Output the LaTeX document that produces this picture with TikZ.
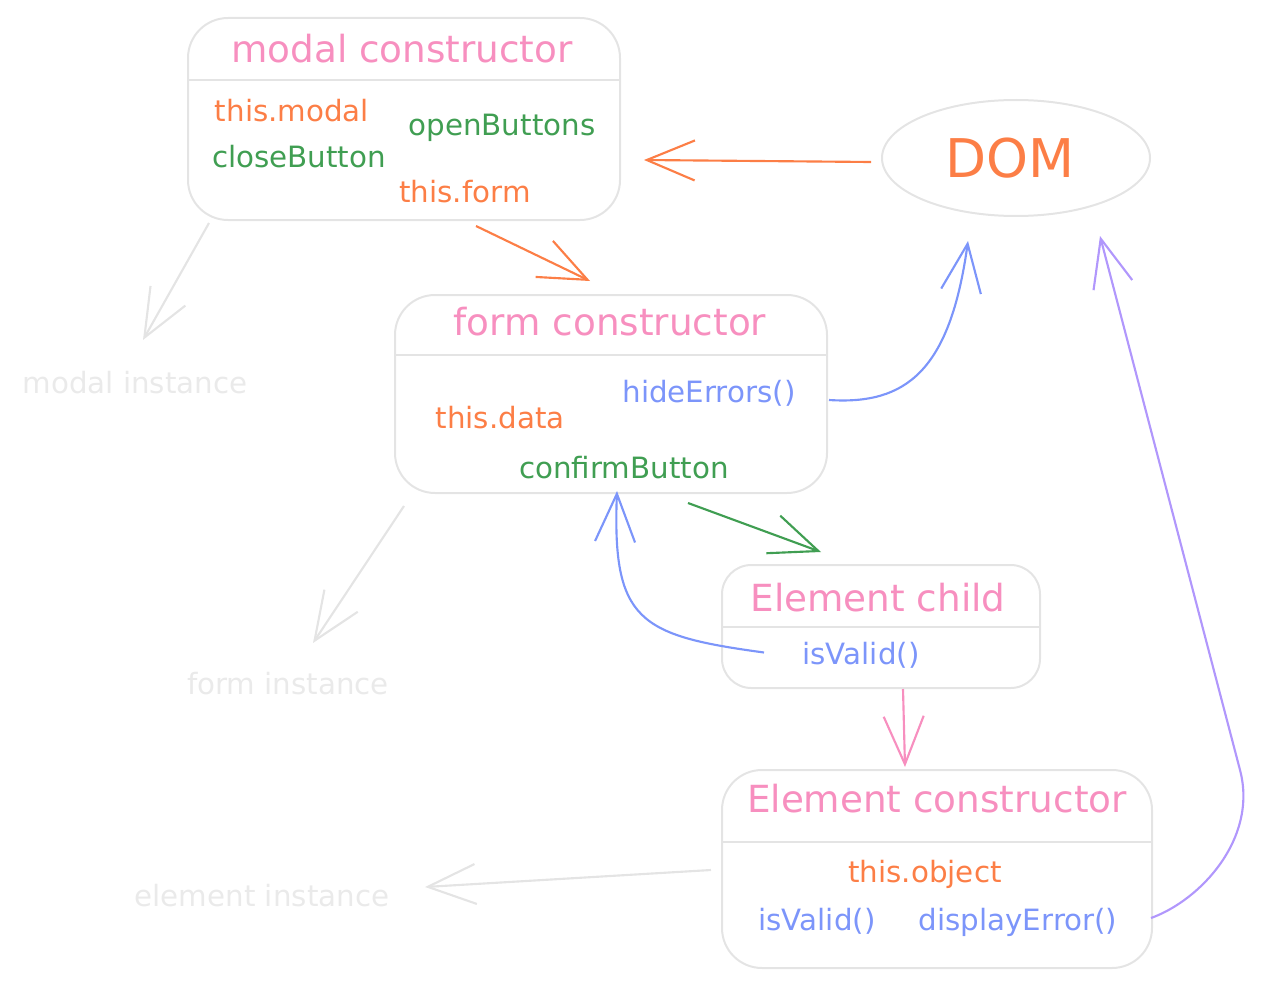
\documentclass[tikz,border=0pt]{standalone}
\usepackage{fontspec}
\setmainfont{DejaVu Sans}
\usetikzlibrary{calc,arrows.meta,shapes.geometric}
\definecolor{titlepink}{HTML}{F78FBF}
\definecolor{fieldorange}{HTML}{FC7E46}
\definecolor{btngreen}{HTML}{409E52}
\definecolor{methblue}{HTML}{7C95FA}
\definecolor{linkpurple}{HTML}{B197FC}
\definecolor{boxgray}{HTML}{E4E4E4}
\definecolor{ghostgray}{HTML}{EAEAEA}

\tikzset{
  box/.style={draw=boxgray, line width=1.5pt, rounded corners=30pt},
  txt/.style={inner sep=0pt, anchor=base, font=\fontsize{22}{26}\selectfont},
  ttl/.style={txt, text=titlepink, font=\fontsize{28}{33}\selectfont},
  arr/.style={line width=1.6pt, -{Straight Barb[length=36pt,width=30pt]}},
}

\begin{document}
\begin{tikzpicture}[x=0.75pt,y=-0.75pt]
  \useasboundingbox (0,0) rectangle (1263,988);

  %%%%% BOXES %%%%%
  \node[box, minimum width=324pt, minimum height=151.5pt] (modal) at (404,119) {};
  \node[box, minimum width=324pt, minimum height=148.5pt] (form) at (611,394) {};
  \node[box, rounded corners=22pt, minimum width=238.5pt, minimum height=92.25pt] (child) at (881,626.5) {};
  \node[box, minimum width=322.5pt, minimum height=148.5pt] (elem) at (937,869) {};
  \node[ellipse, draw=boxgray, line width=1.5pt, minimum width=201pt, minimum height=87pt] (dom) at (1016,158) {};
  \node[txt, text=fieldorange, font=\fontsize{40}{46}\selectfont] (domlabel) at (1010,178) {DOM};

  \draw[boxgray, line width=1.5pt] (modal.west |- 0,80) -- (modal.east |- 0,80);
  \draw[boxgray, line width=1.5pt] (form.west |- 0,355) -- (form.east |- 0,355);
  \draw[boxgray, line width=1.5pt] (child.west |- 0,627) -- (child.east |- 0,627);
  \draw[boxgray, line width=1.5pt] (elem.west |- 0,842) -- (elem.east |- 0,842);

  %%%%% TEXTS %%%%%
  \node[ttl] (modaltitle) at (402,63) {modal constructor};
  \node[txt, text=fieldorange] (thismodal) at (292,122) {this.modal};
  \node[txt, text=btngreen] (openbtns) at (502,136) {openButtons};
  \node[txt, text=btngreen] (closebtn) at (299,167) {closeButton};
  \node[txt, text=fieldorange] (thisform) at (465,203) {this.form};

  \node[ttl] (formtitle) at (610,335) {form constructor};
  \node[txt, text=methblue] (hideerr) at (709,402) {hideErrors()};
  \node[txt, text=fieldorange] (thisdata) at (500,428) {this.data};
  \node[txt, text=btngreen] (confirm) at (624,478) {confirmButton};

  \node[ttl] (childtitle) at (878,611) {Element child};
  \node[txt, text=methblue] (childvalid) at (861,664) {isValid()};

  \node[ttl] (elemtitle) at (937,812) {Element constructor};
  \node[txt, text=fieldorange] (thisobj) at (925,882) {this.object};
  \node[txt, text=methblue] (elemvalid) at (817,930) {isValid()};
  \node[txt, text=methblue] (disperr) at (1018,930) {displayError()};

  \node[txt, text=ghostgray] (modalinst) at (135,393) {modal instance};
  \node[txt, text=ghostgray] (forminst) at (288,694) {form instance};
  \node[txt, text=ghostgray] (eleminst) at (262,906) {element instance};

  %%%%% ARROWS %%%%%
  \draw[arr, fieldorange] ($(dom.west)+(-10,4)$) -- ($(modal.east)+(23,41)$);
  \draw[arr, fieldorange] ($(modal.south)+(72,5)$) -- ($(form.north)+(-21,-13)$);
  \draw[arr, methblue] ($(form.east)+(1,6)$) .. controls +(77,5) and +(-18,130) .. ($(dom.south)+(-48,24)$);
  \draw[arr, btngreen] ($(form.south)+(77,9)$) -- ($(child.north west)+(100,-12)$);
  \draw[arr, methblue] ($(child.west)+(43,26)$) .. controls +(-125,-17) and +(-5,130) .. ($(form.south)+(6,-3)$);
  \draw[arr, titlepink] ($(child.south)+(22,0)$) -- ($(elem.north)+(-32,-2)$);

  \draw[arr, boxgray] ($(modal.south west)+(22,2)$) -- ($(modalinst.base)+(8,-53)$);
  \draw[arr, boxgray] ($(form.south west)+(10,12)$) -- ($(forminst.base)+(25,-51)$);
  \draw[arr, boxgray] ($(elem.west)+(-10,1)$) -- ($(eleminst.base)+(163,-19)$);

  \coordinate (bendpt) at (1240,770);
  \draw[arr, linkpurple] ($(elem.east)+(-2,49)$) .. controls +(50,-18) and +(18,68) .. (bendpt) -- ($(dom.south)+(84,19)$);
\end{tikzpicture}
\end{document}
